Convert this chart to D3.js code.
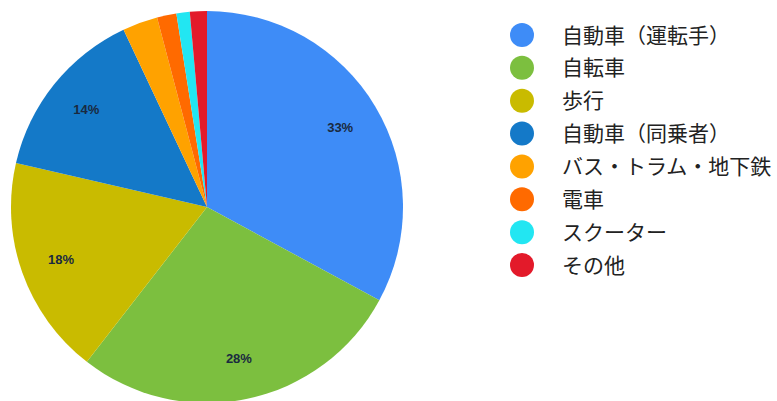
<!DOCTYPE html>
<html><head><meta charset="utf-8">
<script src="https://cdn.jsdelivr.net/npm/d3@7"></script>
<style>html,body{margin:0;padding:0;background:#fff;}svg{display:block;}</style>
</head><body>
<svg id="chart" width="777" height="401"></svg>
<script>
const categories = ["自動車（運転手）","自転車","歩行","自動車（同乗者）","バス・トラム・地下鉄","電車","スクーター","その他"];
const values = [32.9, 27.6, 18.1, 14.4, 2.9, 1.6, 1.1, 1.4];
const labels = ["33%","28%","18%","14%","","","",""];
const colors = ["#3e8cf7","#7cbf3f","#c9bb00","#1479c8","#ffa200","#ff6a00","#22e6f2","#e31a2a"];

const svg = d3.select("#chart");
const cx = 207, cy = 207, R = 196;
const pie = d3.pie().sort(null).value(d => d)(values);
const arc = d3.arc().innerRadius(0).outerRadius(R);
const labelArc = d3.arc().innerRadius(155).outerRadius(155);
const color = d3.scaleOrdinal().domain(categories).range(colors);

const g = svg.append("g").attr("transform", `translate(${cx},${cy})`);
g.selectAll("path").data(pie).join("path")
  .attr("d", arc)
  .attr("fill", (d,i) => color(categories[i]));
g.selectAll("text").data(pie).join("text")
  .attr("transform", d => `translate(${labelArc.centroid(d)})`)
  .attr("text-anchor","middle").attr("dy","0.35em")
  .attr("font-family","Liberation Sans, Arial, sans-serif")
  .attr("font-size","13px").attr("font-weight","bold")
  .attr("fill","#1a2a40")
  .text((d,i) => labels[i]);

const y = d3.scalePoint().domain(categories).range([35, 265]);
const lg = svg.append("g");
const item = lg.selectAll("g").data(categories).join("g")
  .attr("transform", d => `translate(0,${y(d)})`);
item.append("circle").attr("cx", 522).attr("cy", 0).attr("r", 12)
  .attr("fill", d => color(d));
item.append("text").attr("x", 562).attr("y", 0).attr("dy","0.36em")
  .attr("font-family","Noto Sans CJK JP, sans-serif")
  .attr("font-size","21px").attr("fill","#222")
  .text(d => d);
</script>
</body></html>
